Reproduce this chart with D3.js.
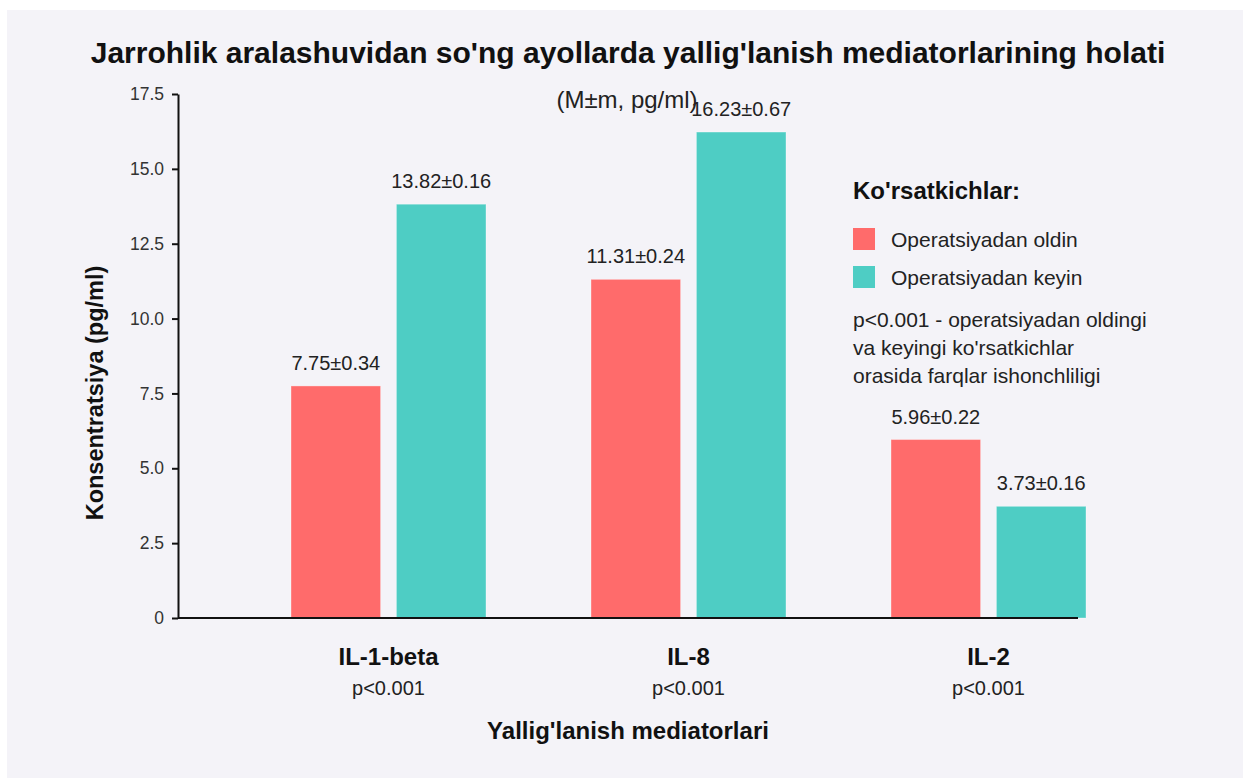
<!DOCTYPE html>
<html>
<head>
<meta charset="utf-8">
<title>Yallig'lanish mediatorlari</title>
<script src="https://d3js.org/d3.v7.min.js"></script>
<style>
  body { margin: 0; background: #fff; }
  svg text { font-family: "Liberation Sans", Arial, sans-serif; fill: #222; }
  .axis path, .axis line { stroke: #111; stroke-width: 2; }
  .axis text { font-size: 17.5px; fill: #333; }
</style>
</head>
<body>
<script>

var categories = ["IL-1-beta", "IL-8", "IL-2"];
var series = ["Operatsiyadan oldin", "Operatsiyadan keyin"];
var before = [7.75, 11.31, 5.96];
var beforeErr = [0.34, 0.24, 0.22];
var after = [13.82, 16.23, 3.73];
var afterErr = [0.16, 0.67, 0.16];
var pLabels = ["p<0.001", "p<0.001", "p<0.001"];
var yTicks = [0, 2.5, 5.0, 7.5, 10.0, 12.5, 15.0, 17.5];
var colors = ["#ff6b6b", "#4ecdc4"];

var width = 1243, height = 778;

var svg = d3.select("body").append("svg")
    .attr("width", width)
    .attr("height", height);

svg.append("rect")
    .attr("x", 7).attr("y", 10)
    .attr("width", width - 7).attr("height", height - 10)
    .attr("fill", "#f4f3f8");

var y = d3.scaleLinear()
    .domain([0, 17.5])
    .range([618, 94]);

var x0 = d3.scaleBand()
    .domain(categories)
    .range([238, 1138]);

var x1 = d3.scaleBand()
    .domain(series)
    .range([53, 248])
    .paddingInner(0.15);

var rows = categories.map(function(c, i) {
  return {
    cat: c,
    vals: [
      { s: series[0], v: before[i], e: beforeErr[i] },
      { s: series[1], v: after[i], e: afterErr[i] }
    ]
  };
});

// y axis
svg.append("g")
    .attr("class", "axis")
    .attr("transform", "translate(178,0)")
    .call(d3.axisLeft(y)
      .tickValues(yTicks)
      .tickSize(6)
      .tickPadding(8)
      .tickSizeOuter(0)
      .tickFormat(function(d) { return d === 0 ? "0" : d3.format(".1f")(d); }));

// bars
var g = svg.selectAll(".grp")
    .data(rows)
  .enter().append("g")
    .attr("class", "grp")
    .attr("transform", function(d) { return "translate(" + (x0(d.cat)) + ",0)"; });

g.selectAll("rect")
    .data(function(d) { return d.vals; })
  .enter().append("rect")
    .attr("x", function(d) { return x1(d.s); })
    .attr("width", x1.bandwidth())
    .attr("y", function(d) { return y(d.v); })
    .attr("height", function(d) { return y(0) - y(d.v); })
    .attr("fill", function(d, i) { return colors[i]; })
    .attr("stroke", "#fff")
    .attr("stroke-opacity", 0.35)
    .attr("stroke-width", 1);

g.selectAll(".val")
    .data(function(d) { return d.vals; })
  .enter().append("text")
    .attr("class", "val")
    .attr("x", function(d) { return x1(d.s) + x1.bandwidth() / 2; })
    .attr("y", function(d) { return y(d.v) - 16; })
    .attr("text-anchor", "middle")
    .style("font-size", "20px")
    .text(function(d) { return d.v.toFixed(2) + "±" + d.e.toFixed(2); });

// x axis line
svg.append("line")
    .attr("x1", 178).attr("x2", 1078)
    .attr("y1", y(0)).attr("y2", y(0))
    .attr("stroke", "#111")
    .attr("stroke-width", 2);

// category labels
var mid = (x1.range()[0] + x1.range()[1]) / 2;
svg.selectAll(".cat")
    .data(categories)
  .enter().append("text")
    .attr("class", "cat")
    .attr("x", function(d) { return x0(d) + mid; })
    .attr("y", 665)
    .attr("text-anchor", "middle")
    .style("font-size", "24px")
    .style("font-weight", "bold")
    .style("fill", "#111")
    .text(function(d) { return d; });

svg.selectAll(".pv")
    .data(categories)
  .enter().append("text")
    .attr("class", "pv")
    .attr("x", function(d) { return x0(d) + mid; })
    .attr("y", 695)
    .attr("text-anchor", "middle")
    .style("font-size", "20px")
    .text(function(d, i) { return pLabels[i]; });

// titles
svg.append("text")
    .attr("x", 628).attr("y", 63)
    .attr("text-anchor", "middle")
    .style("font-size", "30px")
    .style("font-weight", "bold")
    .style("fill", "#111")
    .text("Jarrohlik aralashuvidan so'ng ayollarda yallig'lanish mediatorlarining holati");

svg.append("text")
    .attr("x", 627).attr("y", 108)
    .attr("text-anchor", "middle")
    .style("font-size", "24px")
    .text("(M±m, pg/ml)");

svg.append("text")
    .attr("x", 628).attr("y", 739)
    .attr("text-anchor", "middle")
    .style("font-size", "24px")
    .style("font-weight", "bold")
    .style("fill", "#111")
    .text("Yallig'lanish mediatorlari");

svg.append("text")
    .attr("transform", "translate(103,393) rotate(-90)")
    .attr("text-anchor", "middle")
    .style("font-size", "23.5px")
    .style("font-weight", "bold")
    .style("fill", "#111")
    .text("Konsentratsiya (pg/ml)");

// legend
var leg = svg.append("g").attr("transform", "translate(853,0)");

leg.append("text")
    .attr("x", 0).attr("y", 199)
    .style("font-size", "24px")
    .style("font-weight", "bold")
    .style("fill", "#111")
    .text("Ko'rsatkichlar:");

var li = leg.selectAll(".li")
    .data(series)
  .enter().append("g")
    .attr("class", "li")
    .attr("transform", function(d, i) { return "translate(0," + (228 + i * 38) + ")"; });

li.append("rect")
    .attr("width", 22).attr("height", 22)
    .attr("fill", function(d, i) { return colors[i]; });

li.append("text")
    .attr("x", 38).attr("y", 19)
    .style("font-size", "21px")
    .text(function(d) { return d; });

var note = ["p<0.001 - operatsiyadan oldingi", "va keyingi ko'rsatkichlar", "orasida farqlar ishonchliligi"];
leg.selectAll(".note")
    .data(note)
  .enter().append("text")
    .attr("class", "note")
    .attr("x", 0)
    .attr("y", function(d, i) { return 327 + i * 28; })
    .style("font-size", "21px")
    .text(function(d) { return d; });

</script>
</body>
</html>
